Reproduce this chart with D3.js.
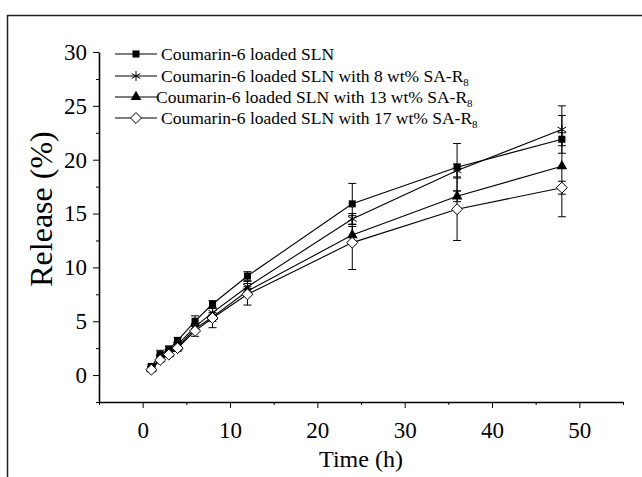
<!DOCTYPE html>
<html>
<head>
<meta charset="utf-8">
<script src="https://cdn.jsdelivr.net/npm/d3@7"></script>
<style>
  body { margin: 0; background: #fff; }
  text { font-family: "Liberation Serif", "Times New Roman", serif; fill: #000; }
</style>
</head>
<body>
<div id="chart"></div>
<script>
// sampling times (h)
const times = [1, 2, 3, 4, 6, 8, 12, 24, 36, 48];

// release (%) per formulation, with error bars
const slnVals  = [0.8, 1.9, 2.4, 3.2, 5.0, 6.6, 9.2, 15.9, 19.3, 21.9];
const slnErr   = [0.2, 0.4, 0.3, 0.3, 0.5, 0.3, 0.4, 1.9, 2.2, 0.6];
const sa8Vals  = [0.6, 1.6, 2.1, 2.8, 4.5, 5.8, 8.2, 14.5, 19.0, 22.8];
const sa8Err   = [0.2, 0.3, 0.3, 0.3, 0.3, 0.4, 0.5, 0.5, 0.6, 2.2];
const sa13Vals = [0.6, 1.5, 2.0, 2.6, 4.3, 5.4, 7.8, 13.0, 16.6, 19.4];
const sa13Err  = [0.2, 0.2, 0.2, 0.3, 0.3, 0.4, 0.4, 0.8, 0.5, 4.7];
const sa17Vals = [0.5, 1.4, 1.9, 2.5, 4.1, 5.3, 7.5, 12.3, 15.4, 17.4];
const sa17Err  = [0.2, 0.2, 0.2, 0.3, 0.5, 0.9, 1.0, 2.5, 2.9, 0.6];

const seriesNames = [
    ["Coumarin-6 loaded SLN", ""],
    ["Coumarin-6 loaded SLN with 8 wt% SA-R", "8"],
    ["Coumarin-6 loaded SLN with 13 wt% SA-R", "8"],
    ["Coumarin-6 loaded SLN with 17 wt% SA-R", "8"]
];

const xTicks = [0, 10, 20, 30, 40, 50];
const yTicks = [0, 5, 10, 15, 20, 25, 30];

const svgWidth = 642, svgHeight = 477;
const margin = { top: 52, right: 19, bottom: 75, left: 99 };
const serif = '"Liberation Serif", "Times New Roman", serif';

const svg = d3.select('#chart').append('svg')
    .attr('width', svgWidth)
    .attr('height', svgHeight);

// outer frame (cut off at right/bottom like the scan)
svg.append('path')
    .attr('d', 'M7.5,' + svgHeight + 'V15.5H' + svgWidth)
    .attr('fill', 'none')
    .attr('stroke', '#222')
    .attr('stroke-width', 1.5);

const width = svgWidth - margin.left - margin.right;
const height = svgHeight - margin.top - margin.bottom;

const x = d3.scaleLinear().domain([-5, 55]).range([0, width]);
const y = d3.scaleLinear().domain([-2.5, 30]).range([height, 0]);

const g = svg.append('g')
    .attr('transform', 'translate(' + margin.left + ',' + margin.top + ')');

// axes: minor ticks first, then major with labels
g.append('g')
    .attr('transform', 'translate(0,' + height + ')')
    .call(d3.axisBottom(x).tickValues(d3.range(-5, 56, 10)).tickSize(3).tickFormat(''))
    .call(a => a.select('.domain').remove());
g.append('g')
    .attr('transform', 'translate(0,' + height + ')')
    .call(d3.axisBottom(x).tickValues(xTicks).tickSize(6).tickPadding(14).tickSizeOuter(0))
    .attr('font-family', serif)
    .attr('font-size', 23)
    .call(a => a.select('.domain').attr('stroke-width', 1.6))
    .call(a => a.selectAll('text').style('font-family', serif));

g.append('g')
    .call(d3.axisLeft(y).tickValues(d3.range(-2.5, 30, 5)).tickSize(3).tickFormat(''))
    .call(a => a.select('.domain').remove());
g.append('g')
    .call(d3.axisLeft(y).tickValues(yTicks).tickSize(6).tickPadding(6).tickSizeOuter(0))
    .attr('font-family', serif)
    .attr('font-size', 23)
    .call(a => a.select('.domain').attr('stroke-width', 1.6))
    .call(a => a.selectAll('text').style('font-family', serif));

svg.append('text')
    .attr('x', margin.left + x(25))
    .attr('y', 467)
    .attr('text-anchor', 'middle')
    .style('font-size', '24px')
    .text('Time (h)');

svg.append('text')
    .attr('transform', 'translate(52,209) rotate(-90)')
    .attr('text-anchor', 'middle')
    .style('font-size', '32px')
    .text('Release (%)');

// marker shapes
const diamond = {
    draw(ctx, size) {
        const r = Math.sqrt(size / 2);
        ctx.moveTo(0, -r); ctx.lineTo(r, 0); ctx.lineTo(0, r); ctx.lineTo(-r, 0); ctx.closePath();
    }
};
const markers = [
    { type: d3.symbolSquare, size: 50, fill: '#000', stroke: 'none' },
    { type: d3.symbolAsterisk, size: 70, fill: 'none', stroke: '#000' },
    { type: d3.symbolTriangle, size: 50, fill: '#000', stroke: 'none' },
    { type: diamond, size: 60, fill: '#fff', stroke: '#000' }
];

const allVals = [slnVals, sa8Vals, sa13Vals, sa17Vals];
const allErr = [slnErr, sa8Err, sa13Err, sa17Err];

const series = allVals.map((vals, i) => times.map((t, j) => ({ t: t, v: vals[j], e: allErr[i][j] })));

const line = d3.line().x(d => x(d.t)).y(d => y(d.v));

series.forEach((s, i) => {
    const sg = g.append('g');

    sg.append('path')
        .datum(s)
        .attr('d', line)
        .attr('fill', 'none')
        .attr('stroke', '#000')
        .attr('stroke-width', 1.1);

    const eb = sg.selectAll('.err').data(s).enter().append('g').attr('stroke', '#000').attr('stroke-width', 1);
    eb.append('line')
        .attr('x1', d => x(d.t)).attr('x2', d => x(d.t))
        .attr('y1', d => y(d.v - d.e)).attr('y2', d => y(d.v + d.e));
    eb.append('line')
        .attr('x1', d => x(d.t) - 4).attr('x2', d => x(d.t) + 4)
        .attr('y1', d => y(d.v + d.e)).attr('y2', d => y(d.v + d.e));
    eb.append('line')
        .attr('x1', d => x(d.t) - 4).attr('x2', d => x(d.t) + 4)
        .attr('y1', d => y(d.v - d.e)).attr('y2', d => y(d.v - d.e));

    const m = markers[i];
    sg.selectAll('.pt').data(s).enter().append('path')
        .attr('transform', d => 'translate(' + x(d.t) + ',' + y(d.v) + ')')
        .attr('d', d3.symbol().type(m.type).size(m.size))
        .attr('fill', m.fill)
        .attr('stroke', m.stroke)
        .attr('stroke-width', 1);
});

// legend
const legend = svg.append('g');
const legendY = [54, 76, 97, 118];
seriesNames.forEach((nm, i) => {
    const ly = legendY[i];
    const m = markers[i];
    legend.append('line')
        .attr('x1', 115).attr('x2', 157)
        .attr('y1', ly).attr('y2', ly)
        .attr('stroke', '#000').attr('stroke-width', 1.1);
    legend.append('path')
        .attr('transform', 'translate(136,' + ly + ')')
        .attr('d', d3.symbol().type(m.type).size(m.size))
        .attr('fill', m.fill)
        .attr('stroke', m.stroke);
    const t = legend.append('text')
        .attr('x', i === 2 ? 156 : 161)
        .attr('y', ly + 6)
        .style('font-size', '17.5px')
        .text(nm[0]);
    if (nm[1]) {
        t.append('tspan').attr('dy', 4).style('font-size', '11px').text(nm[1]);
    }
});
</script>
</body>
</html>
